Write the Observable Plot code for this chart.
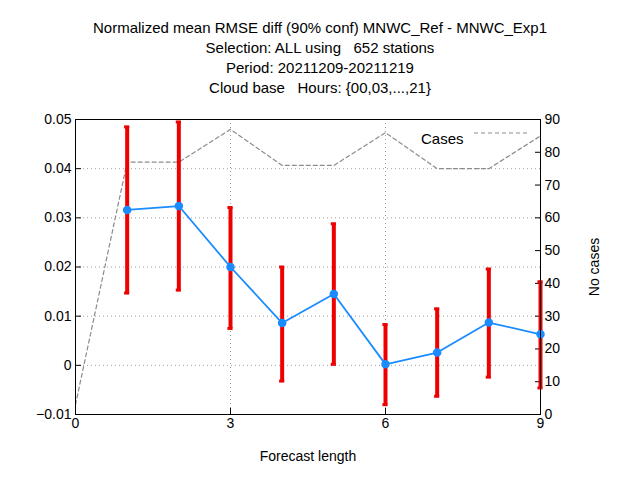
<!DOCTYPE html>
<html><head><meta charset="utf-8">
<script src="https://cdn.jsdelivr.net/npm/d3@7"></script>
<script src="https://cdn.jsdelivr.net/npm/@observablehq/plot@0.6"></script>
<style>
body{margin:0;background:#fff;font-family:"Liberation Sans",Arial,sans-serif;}
#wrap{position:relative;width:640px;height:480px;}
#title{position:absolute;top:18px;left:0;width:640px;text-align:center;font-size:15px;line-height:20px;color:#000;z-index:2;}
</style></head><body>
<div id="wrap"><div id="title">Normalized mean RMSE diff (90% conf) MNWC_Ref - MNWC_Exp1<br>Selection: ALL using &nbsp;&nbsp;652 stations<br>Period: 20211209-20211219<br>Cloud base &nbsp;&nbsp;Hours: {00,03,...,21}</div></div>
<script>
const leads = [1,2,3,4,5,6,7,8,9];
const meanDiff = [0.0316,0.0324,0.0200,0.0086,0.0145,0.0002,0.0026,0.0087,0.0063];
const errLow  = [0.0147,0.0153,0.0075,-0.0032,0.0002,-0.0080,-0.0063,-0.0024,-0.0046];
const errHigh = [0.0485,0.0495,0.0321,0.0200,0.0288,0.0083,0.0115,0.0196,0.0170];
const caseLeads = [0,1,2,3,4,5,6,7,8,9];
const cases = [3,77,77,87,76,76,86,75,75,85];
const leftTicks = [-0.01,0,0.01,0.02,0.03,0.04,0.05];
const rightTicks = [0,10,20,30,40,50,60,70,80,90];
const xTicks = [0,3,6,9];

const c2y = c => -0.01 + c*0.06/90;
const y2c = y => Math.round((y+0.01)*90/0.06);
const pts = leads.map((x,i)=>({x,m:meanDiff[i],lo:errLow[i],hi:errHigh[i]}));
const cs = caseLeads.map((x,i)=>({x,y:c2y(cases[i])}));
const fmtL = d => d===0 ? "0" : d3.format(".2f")(d);
const cap = 0.05;

const plot = Plot.plot({
  width:640, height:480,
  marginLeft:75, marginRight:100, marginTop:119, marginBottom:66,
  style:{fontFamily:"Liberation Sans, Arial, sans-serif", fontSize:"14px", color:"#000", background:"transparent"},
  x:{type:"linear",domain:[0,9]},
  y:{type:"linear",domain:[-0.01,0.05]},
  marks:[
    Plot.gridX(xTicks,{stroke:"#a0a0a0",strokeOpacity:1,strokeDasharray:"1,3"}),
    Plot.gridY(leftTicks,{stroke:"#a0a0a0",strokeOpacity:1,strokeDasharray:"1,3"}),
    Plot.axisX({ticks:xTicks,tickSize:-6,tickPadding:10,label:"Forecast length",labelAnchor:"center",labelArrow:"none",labelOffset:46,fontSize:14}),
    Plot.axisY({ticks:leftTicks,tickSize:-6,tickPadding:10,tickFormat:fmtL,label:null,fontSize:14}),
    Plot.axisY({anchor:"right",ticks:rightTicks.map(c2y),tickSize:-6,tickPadding:10,tickFormat:y2c,label:"No cases",labelAnchor:"center",labelArrow:"none",labelOffset:58,fontSize:14}),
    Plot.line(cs,{x:"x",y:"y",stroke:"#8c8c8c",strokeWidth:1.2,strokeDasharray:"4,3"}),
    Plot.ruleX(pts,{x:"x",y1:"lo",y2:"hi",stroke:"#ee0000",strokeWidth:4}),
    Plot.ruleY(pts,{y:"lo",x1:d=>d.x-cap,x2:d=>d.x+cap,stroke:"#ee0000",strokeWidth:3}),
    Plot.ruleY(pts,{y:"hi",x1:d=>d.x-cap,x2:d=>d.x+cap,stroke:"#ee0000",strokeWidth:3}),
    Plot.line(pts,{x:"x",y:"m",stroke:"#1a8cff",strokeWidth:1.8}),
    Plot.dot(pts,{x:"x",y:"m",r:3.5,fill:"#1a8cff",stroke:"#1a8cff"}),
    Plot.frame({stroke:"#000"}),
    Plot.text(["Cases"],{frameAnchor:"top-right",dx:-77,dy:14,fontSize:15,textAnchor:"end"}),
    () => {
      const g = document.createElementNS("http://www.w3.org/2000/svg","line");
      g.setAttribute("x1",474);g.setAttribute("x2",530);g.setAttribute("y1",133);g.setAttribute("y2",133);
      g.setAttribute("stroke","#8c8c8c");g.setAttribute("stroke-dasharray","4,3");g.setAttribute("stroke-width","1.2");
      return g;
    }
  ]
});
document.getElementById("wrap").prepend(plot);
plot.style.position="absolute";plot.style.top="0";plot.style.left="0";
</script>
</body></html>
